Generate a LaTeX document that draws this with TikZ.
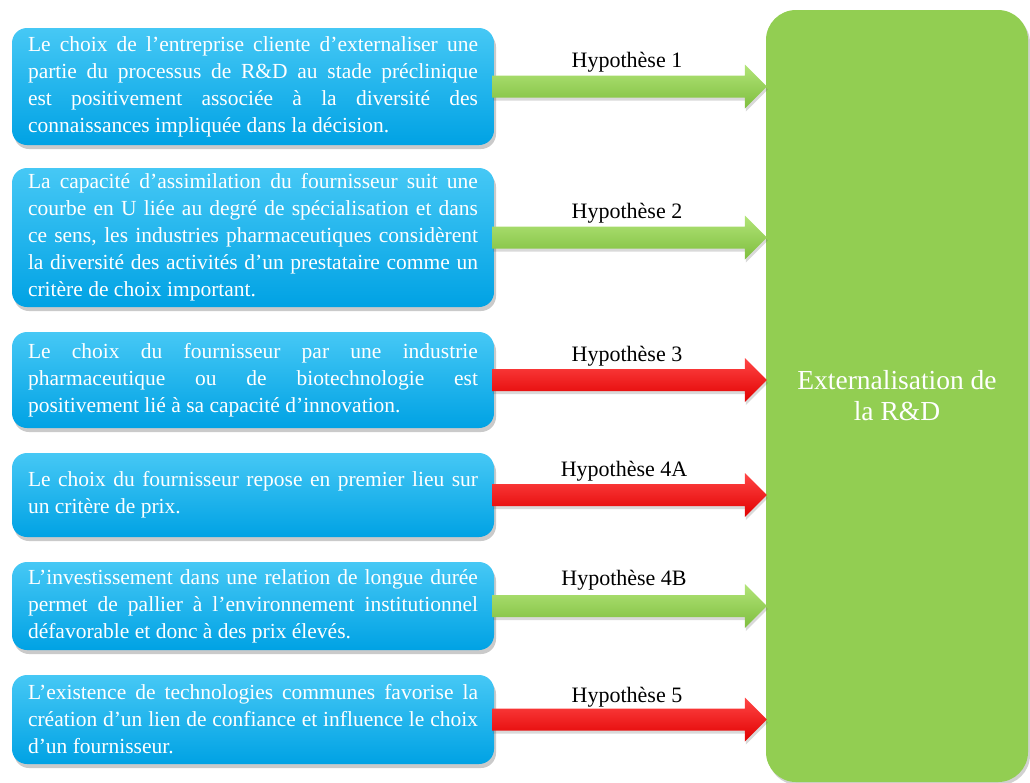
\documentclass[tikz,border=0pt]{standalone}
\usepackage{fontspec}
\setmainfont{Liberation Serif}
\usetikzlibrary{calc,shadows}
\definecolor{bluetop}{RGB}{70,200,245}
\definecolor{bluebot}{RGB}{0,162,228}
\definecolor{grbox}{RGB}{146,206,82}
\definecolor{grtop}{RGB}{178,228,120}
\definecolor{grbot}{RGB}{126,190,62}
\definecolor{rdtop}{RGB}{255,70,70}
\definecolor{rdbot}{RGB}{225,0,0}
\tikzset{
  bluebox/.style={rectangle, rounded corners=15pt, top color=bluetop, bottom color=bluebot,
    draw=none, text=white, text width=450pt, inner xsep=16pt, align=justify,
    font=\fontsize{21.5}{27}\selectfont,
    drop shadow={shadow xshift=2pt, shadow yshift=-4pt, opacity=0.35, fill=black!60}},
  greenbox/.style={rectangle, rounded corners=30pt, fill=grbox, draw=none, text=white,
    align=center, font=\fontsize{27.5}{31}\selectfont,
    drop shadow={shadow xshift=2pt, shadow yshift=-3pt, opacity=0.3, fill=black!60}},
  hyplabel/.style={font=\fontsize{22}{26}\selectfont, text=black},
  greenarrow/.style={top color=grtop, bottom color=grbot, draw=none,
    drop shadow={shadow xshift=1pt, shadow yshift=-3pt, opacity=0.25, fill=black!60}},
  redarrow/.style={top color=rdtop, bottom color=rdbot, draw=none,
    drop shadow={shadow xshift=1pt, shadow yshift=-3pt, opacity=0.25, fill=black!60}},
}
\newcommand{\hyparrow}[3]{%
  \path[#3] ($(#1.east)+(-2,-11)$) -- ($(#2.west |- #1.east)+(-21,-11)$)
    -- ($(#2.west |- #1.east)+(-21,-22)$) -- ($(#2.west |- #1.east)+(1,0)$)
    -- ($(#2.west |- #1.east)+(-21,22)$) -- ($(#2.west |- #1.east)+(-21,11)$)
    -- ($(#1.east)+(-2,11)$) -- cycle;}
\begin{document}
\begin{tikzpicture}[x=1pt,y=-1pt]
\useasboundingbox (0,0) rectangle (1030,782);
% green target box
\node[greenbox, minimum width=262pt, minimum height=772pt] (g) at (897,396) {Externalisation de\\la R\&D};
% blue boxes
\node[bluebox, minimum height=117pt] (b1) at (253,86.5) {Le choix de l’entreprise cliente d’externaliser une\linebreak partie du processus de R\&D au stade préclinique\linebreak est positivement associée à la diversité des\linebreak connaissances impliquée dans la décision.};
\node[bluebox, minimum height=139pt] (b2) at (253,237.5) {La capacité d’assimilation du fournisseur suit une\linebreak courbe en U liée au degré de spécialisation et dans\linebreak ce sens, les industries pharmaceutiques considèrent\linebreak la diversité des activités d’un prestataire comme un\linebreak critère de choix important.};
\node[bluebox, minimum height=96pt] (b3) at (253,380) {Le choix du fournisseur par une industrie\linebreak pharmaceutique ou de biotechnologie est\linebreak positivement lié à sa capacité d’innovation.};
\node[bluebox, minimum height=84pt] (b4) at (253,495) {Le choix du fournisseur repose en premier lieu sur\linebreak un critère de prix.};
\node[bluebox, minimum height=88pt] (b5) at (253,606) {L’investissement dans une relation de longue durée\linebreak permet de pallier à l’environnement institutionnel\linebreak défavorable et donc à des prix élevés.};
\node[bluebox, minimum height=89pt] (b6) at (253,719.5) {L’existence de technologies communes favorise la\linebreak création d’un lien de confiance et influence le choix\linebreak d’un fournisseur.};
% arrows
\hyparrow{b1}{g}{greenarrow}
\hyparrow{b2}{g}{greenarrow}
\hyparrow{b3}{g}{redarrow}
\hyparrow{b4}{g}{redarrow}
\hyparrow{b5}{g}{greenarrow}
\hyparrow{b6}{g}{redarrow}
% labels
\node[hyplabel] (h1) at (627,62) {Hypothèse 1};
\node[hyplabel] (h2) at (627,213) {Hypothèse 2};
\node[hyplabel] (h3) at (627,356) {Hypothèse 3};
\node[hyplabel] (h4a) at (624,471) {Hypothèse 4A};
\node[hyplabel] (h4b) at (624,580) {Hypothèse 4B};
\node[hyplabel] (h5) at (627,697) {Hypothèse 5};
\end{tikzpicture}
\end{document}
